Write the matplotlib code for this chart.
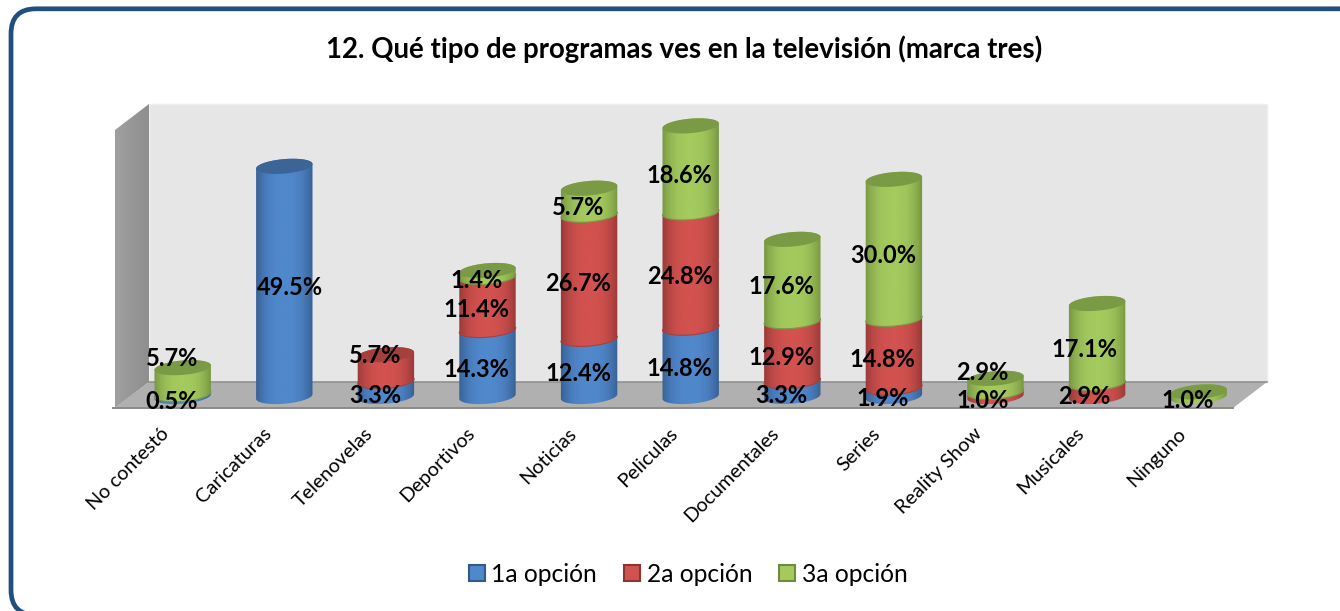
import numpy as np
import matplotlib
matplotlib.use('Agg')
import matplotlib.pyplot as plt
from matplotlib.colors import LinearSegmentedColormap
from matplotlib.patches import Polygon, FancyBboxPatch, Patch
from matplotlib.transforms import ScaledTranslation

plt.rcParams['font.family'] = ['Lato', 'DejaVu Sans']

# Data
categories = ['No contestó', 'Caricaturas', 'Telenovelas', 'Deportivos', 'Noticias', 'Peliculas',
              'Documentales', 'Series', 'Reality Show', 'Musicales', 'Ninguno']
opcion_1 = [0.5, 49.5, 3.3, 14.3, 12.4, 14.8, 3.3, 1.9, 0, 0, 0]
opcion_2 = [0, 0, 5.7, 11.4, 26.7, 24.8, 12.9, 14.8, 1.0, 2.9, 0]
opcion_3 = [5.7, 0, 0, 1.4, 5.7, 18.6, 17.6, 30.0, 2.9, 17.1, 1.0]
series_names = ['1a opción', '2a opción', '3a opción']
title = '12. Qué tipo de programas ves en la televisión (marca tres)'

# Colours per series: light centre, dark edge, top cap
light = ['#5088cc', '#d2524f', '#a4ca5e']
dark = ['#32598a', '#8e3533', '#6f8c3c']
caps = ['#3a6596', '#a5403d', '#7b9a46']

# Figure geometry in pixels
W, H = 1340, 611
DPI = 100
X0, STEP = 182.7, 101.6    # px of first category, px per category
Y0, PER = 396.5, 4.65      # px of zero, px per percent
LEFT, RIGHT, TOP, BOTTOM = 115, 1233, 104, 408
RX, RY, TILT = 28.3, 7.2, np.radians(5)
PT = 72 / DPI

fig = plt.figure(figsize=(W / DPI, H / DPI), dpi=DPI, facecolor='white')

# Background layer: frame and the 3D walls, in pixel coordinates
bg = fig.add_axes([0, 0, 1, 1])
bg.set_xlim(0, W)
bg.set_ylim(H, 0)
bg.axis('off')
bg.add_patch(FancyBboxPatch((11, 8.8), W + 20, H - 4.8, boxstyle='round,pad=0,rounding_size=25',
                            fc='white', ec='#1f4e80', lw=3.4))
bg.add_patch(Polygon([(149, 104), (1267, 104), (1267, 382), (149, 382)], fc='#e6e6e6', ec='#eeeeee', lw=1))
wall = bg.imshow(np.linspace(0, 1, 64).reshape(1, -1), extent=(115, 149, 408, 104), aspect='auto',
                 cmap=LinearSegmentedColormap.from_list('w', ['#a0a0a0', '#8e8e8e']), zorder=2)
wall.set_clip_path(Polygon([(115, 130), (149, 104), (149, 382), (115, 408)], transform=bg.transData))
bg.add_patch(Polygon([(114, 408), (149, 382), (1267, 382), (1233, 408)], fc='#b0b0b0', ec='none', zorder=3))
bg.plot([149, 1267], [382, 382], color='#909090', lw=1.2, zorder=4)
bg.plot([113, 1233], [408, 408], color='#8a8a8a', lw=1.4, zorder=4)
bg.set_xlim(0, W)
bg.set_ylim(H, 0)

# Chart layer: x is category index, y is percent
ax = fig.add_axes([LEFT / W, 1 - BOTTOM / H, (RIGHT - LEFT) / W, (BOTTOM - TOP) / H])
ax.patch.set_alpha(0)
for s in ax.spines.values():
    s.set_visible(False)
xlim = ((LEFT - X0) / STEP, (RIGHT - X0) / STEP)
ylim = ((Y0 - BOTTOM) / PER, (Y0 - TOP) / PER)
ax.set_yticks([])

t_grad = np.linspace(-1, 1, 128)
shade = (1 - np.abs(t_grad) ** 2.6).reshape(1, -1)


def ring(x, y, t):
    ex, ey = RX * np.cos(t), RY * np.sin(t)
    dx = ex * np.cos(TILT) - ey * np.sin(TILT)
    dy = ex * np.sin(TILT) + ey * np.cos(TILT)
    return np.column_stack([x + dx / STEP, y + dy / PER])


def cylinder(x, bottom, value, s, order):
    # body with a horizontal shade, clipped to the cylinder outline
    low = ring(x, bottom, np.linspace(np.pi, 2 * np.pi, 40))
    high = ring(x, bottom + value, np.linspace(0, np.pi, 40))
    cmap = LinearSegmentedColormap.from_list('c%d' % s, [dark[s], light[s]])
    im = ax.imshow(shade, extent=(x - 0.3, x + 0.3, bottom - 3, bottom + value + 3), aspect='auto',
                   cmap=cmap, vmin=0, vmax=1, zorder=order, interpolation='bilinear')
    im.set_clip_path(Polygon(np.vstack([low, high]), transform=ax.transData))


# Hand moved labels in the original: (series, category): (px right, px up)
label_nudge = {(0, 1): (17, 0), (2, 0): (0, 29), (1, 2): (0, 19), (2, 8): (-2, 19),
               (1, 8): (-2, 0), (1, 9): (-2, 0), (2, 9): (-2, 0)}

series = [opcion_1, opcion_2, opcion_3]
order = 2
tops = np.zeros(len(categories))
last = [max(k for k in range(3) if series[k][i] > 0) for i in range(len(categories))]
for k, values in enumerate(series):
    for i, v in enumerate(values):
        if v == 0:
            continue
        cylinder(i, tops[i], v, k, order)
        order += 1
        if tops[i] > 0:
            # darker rim where this segment sits on the one below
            rim = ring(i, tops[i], np.linspace(np.pi, 2 * np.pi, 40))
            ax.plot(rim[:, 0], rim[:, 1], color=caps[k], lw=0.8, zorder=order)
            order += 1
        if last[i] == k:
            cap = ring(i, tops[i] + v, np.linspace(0, 2 * np.pi, 80))
            ax.add_patch(Polygon(cap, fc=caps[k], ec='none', zorder=order))
            order += 1
        nx, ny = label_nudge.get((k, i), (0, 0))
        ax.annotate('%.1f%%' % v, (i, tops[i] + v / 2), xytext=((-11 + nx) * PT, (-6.3 + ny) * PT),
                    textcoords='offset points', ha='center', va='center', fontsize=17,
                    fontweight='bold', color='black', zorder=100, annotation_clip=False)
        tops[i] += v

ax.set_xlim(xlim)
ax.set_ylim(ylim)

# Category labels
ax.set_xticks(range(len(categories)))
ax.set_xticklabels(categories, rotation=45, ha='right', rotation_mode='anchor', fontsize=14.3)
ax.tick_params(axis='x', length=0, pad=12)
shift = ScaledTranslation(-22 / DPI, 0, fig.dpi_scale_trans)
for lab in ax.get_xticklabels():
    lab.set_transform(lab.get_transform() + shift)

# Title and legend
fig.text(684 / W, 1 - 49 / H, title, ha='center', va='center', fontsize=19.9, fontweight='bold')
handles = [Patch(fc=light[k], ec=dark[k], lw=1.5) for k in range(3)]
fig.legend(handles, series_names, loc='center', bbox_to_anchor=(688 / W, 1 - 574 / H), ncol=3, frameon=False,
           fontsize=17.7, handlelength=0.65, handleheight=0.65, handletextpad=0.28, columnspacing=1.08)

fig.savefig('out.png', dpi=DPI)
